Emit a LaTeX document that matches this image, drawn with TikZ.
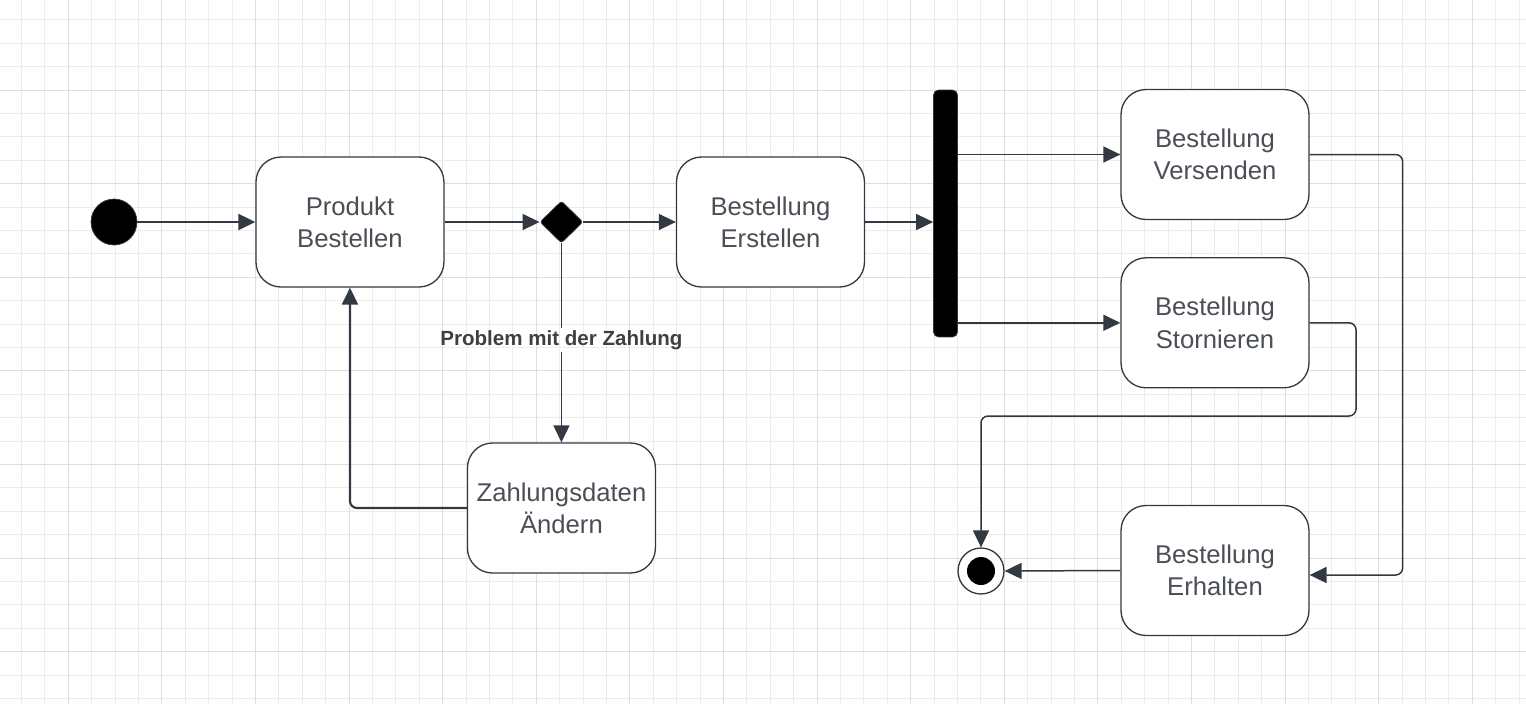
\documentclass[tikz,border=0pt]{standalone}
\usepackage{fontspec}
\setmainfont{Liberation Sans}
\usepackage{tikz}
\usetikzlibrary{shapes.geometric, arrows.meta, positioning}

\definecolor{linec}{RGB}{51,57,66}
\definecolor{textc}{RGB}{74,79,87}
\definecolor{gridfine}{RGB}{236,236,236}
\definecolor{gridbold}{RGB}{222,222,222}

\begin{document}
\begin{tikzpicture}[
        x=0.02cm, y=-0.02cm,
        state/.style={rectangle, draw=linec, line width=0.75pt, fill=white, rounded corners=0.5cm, minimum width=3.76cm, minimum height=2.6cm, align=center, text=textc, font=\fontsize{14.6}{18.4}\selectfont},
        initial/.style={circle, draw=linec, fill=black, minimum size=0.92cm, inner sep=0pt},
        final/.style={circle, draw=linec, line width=0.75pt, fill=white, minimum size=0.92cm, inner sep=0pt, path picture={\fill[black] (path picture bounding box.center) circle (0.28cm);}},
        decision/.style={diamond, draw=linec, fill=black, rounded corners=1.5pt, minimum width=0.86cm, minimum height=0.84cm, inner sep=0pt},
        forkbar/.style={rectangle, draw=linec, fill=black, rounded corners=0.1cm, minimum width=0.48cm, minimum height=4.94cm, inner sep=0pt},
        guard/.style={inner sep=1pt, text=black!75, font=\fontsize{11.7}{14}\selectfont\bfseries},
        arrow/.style={-{Triangle[length=0.34cm, width=0.32cm]}, draw=linec, line width=0.85pt},
        heavy/.style={line width=1.2pt}
    ]

    % grid
    \useasboundingbox (0,0) rectangle (1526,704);
    \fill [white] (0,0) rectangle (1526,704);
    \foreach \k in {0,...,64}
        \draw [gridfine, line width=0.55pt] ({21.5+23.4*\k},0) -- ++(0,704);
    \foreach \k in {0,...,29}
        \draw [gridfine, line width=0.55pt] (0,{19.8+23.4*\k}) -- ++(1526,0);
    \foreach \k in {0,...,15}
        \draw [gridbold, line width=0.55pt] ({68.3+93.6*\k},0) -- ++(0,704);
    \foreach \k in {0,...,6}
        \draw [gridbold, line width=0.55pt] (0,{90+93.6*\k}) -- ++(1526,0);

    \node (start) [initial] at (114,222) {};
    \node (produkt) [state, right=2.36cm of start] {Produkt\\Bestellen};
    \node (entscheid) [decision, right=1.9cm of produkt] {};
    \node (erstellen) [state] at (770.5,222) {Bestellung\\Erstellen};
    \node (gabel) [forkbar] at (945.5,213.5) {};
    \node (versenden) [state] at (1215,154.5) {Bestellung\\Versenden};
    \node (stornieren) [state, below=0.74cm of versenden] {Bestellung\\Stornieren};
    \node (erhalten) [state] at (1215,570.5) {Bestellung\\Erhalten};
    \node (ende) [final] at (981,571) {};
    \node (zahlung) [state] at (entscheid |- 0,508) {Zahlungsdaten\\Ändern};
    \node (problem) [guard] at (entscheid |- 0,340) {Problem mit der Zahlung};
    \coordinate (knick) at (1356,416);

    \draw [arrow, heavy] (start) -- (produkt);
    \draw [arrow] (produkt) -- (entscheid);
    \draw [arrow] (entscheid) -- (erstellen);
    \draw [arrow] (erstellen.east) -- (erstellen.east -| gabel.west);
    \draw [arrow] (gabel.east |- versenden.west) -- (versenden.west);
    \draw [arrow] (gabel.east |- stornieren.west) -- (stornieren.west);
    \draw [linec, line width=0.85pt] (entscheid) -- (problem);
    \draw [arrow] (problem) -- (zahlung);
    \draw [arrow, heavy, rounded corners=4pt] (zahlung.west) -| (produkt.south);
    \draw [arrow, rounded corners=4pt] (versenden.east) -- ++(93,0) |- ([yshift=-0.09cm]erhalten.east);
    \draw [arrow, rounded corners=4pt] (stornieren.east) -| (knick) -| (ende.north);
    \draw [arrow] (erhalten.west) -- (ende.east);

\end{tikzpicture}
\end{document}
